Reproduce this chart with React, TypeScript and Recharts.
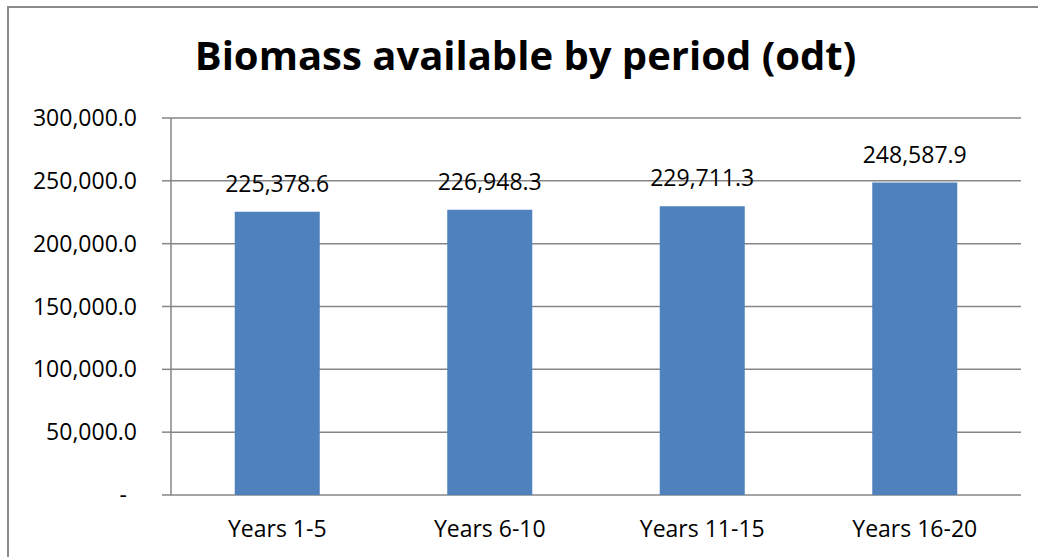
import React from 'react';
import { BarChart, Bar, XAxis, YAxis, CartesianGrid, LabelList } from 'recharts';

const categories = ['Years 1-5', 'Years 6-10', 'Years 11-15', 'Years 16-20'];
const biomass = [225378.6, 226948.3, 229711.3, 248587.9];
const yTicks = [0, 50000, 100000, 150000, 200000, 250000, 300000];
const boundaryTicks = [0, 1, 2, 3, 4];
const title = 'Biomass available by period (odt)';

const data = categories.map((c, i) => ({ period: c, value: biomass[i] }));

const FONT = '"Open Sans", sans-serif';
const GRID = '#868686';

const fmt = (v: number) =>
  v.toLocaleString('en-US', { minimumFractionDigits: 1, maximumFractionDigits: 1 });

const YTick = (props: any) => {
  const { x, y, payload } = props;
  const v = payload.value as number;
  const label = v === 0 ? '-' : fmt(v);
  return (
    <text
      x={x - (v === 0 ? 10 : 0)}
      y={y}
      dy="0.355em"
      textAnchor="end"
      fontFamily={FONT}
      fontSize={23}
      fill="#000"
    >
      {label}
    </text>
  );
};

export default function App() {
  return (
    <div
      style={{
        position: 'absolute',
        left: 0,
        top: 0,
        width: 1038,
        height: 557,
        overflow: 'hidden',
        background: '#fff',
      }}
    >
      <div
        style={{
          position: 'absolute',
          left: 7,
          top: 6,
          width: 1060,
          height: 580,
          border: '2px solid #8a8a8a',
          boxSizing: 'border-box',
        }}
      />
      <div
        style={{
          position: 'absolute',
          left: 0,
          top: 25,
          width: 1051,
          textAlign: 'center',
          fontFamily: FONT,
          fontWeight: 700,
          fontSize: 40,
          lineHeight: '60px',
          color: '#000',
        }}
      >
        {title}
      </div>
      <div style={{ position: 'absolute', left: 0, top: 0 }}>
        <BarChart
          width={1038}
          height={557}
          data={data}
          margin={{ top: 118, right: 17, bottom: 22, left: 0 }}
          barCategoryGap="30%"
        >
          <CartesianGrid vertical={false} stroke={GRID} strokeWidth={1.5} yAxisId="y" xAxisId="cat" />
          <XAxis
            xAxisId="bnd"
            type="number"
            domain={[0, 4]}
            ticks={boundaryTicks}
            height={0}
            tick={false}
            tickSize={8}
            tickLine={{ stroke: GRID, strokeWidth: 1.5 }}
            axisLine={{ stroke: GRID, strokeWidth: 1.5 }}
            allowDataOverflow
          />
          <XAxis
            xAxisId="cat"
            dataKey="period"
            height={40}
            axisLine={false}
            tickLine={false}
            tickSize={0}
            tickMargin={26}
            tick={{ fontFamily: FONT, fontSize: 23, fill: '#000' }}
            interval={0}
          />
          <YAxis
            yAxisId="y"
            width={171}
            domain={[0, 300000]}
            ticks={yTicks}
            tickSize={9}
            tickMargin={25}
            tick={<YTick />}
            tickLine={{ stroke: GRID, strokeWidth: 1.5 }}
            axisLine={{ stroke: GRID, strokeWidth: 1.5 }}
            interval={0}
          />
          <Bar dataKey="value" xAxisId="cat" yAxisId="y" fill="#4F81BD" isAnimationActive={false}>
            <LabelList
              dataKey="value"
              position="top"
              offset={20}
              formatter={(v: any) => fmt(Number(v))}
              style={{ fontFamily: FONT, fontSize: 23, fill: '#000' }}
            />
          </Bar>
        </BarChart>
      </div>
    </div>
  );
}
